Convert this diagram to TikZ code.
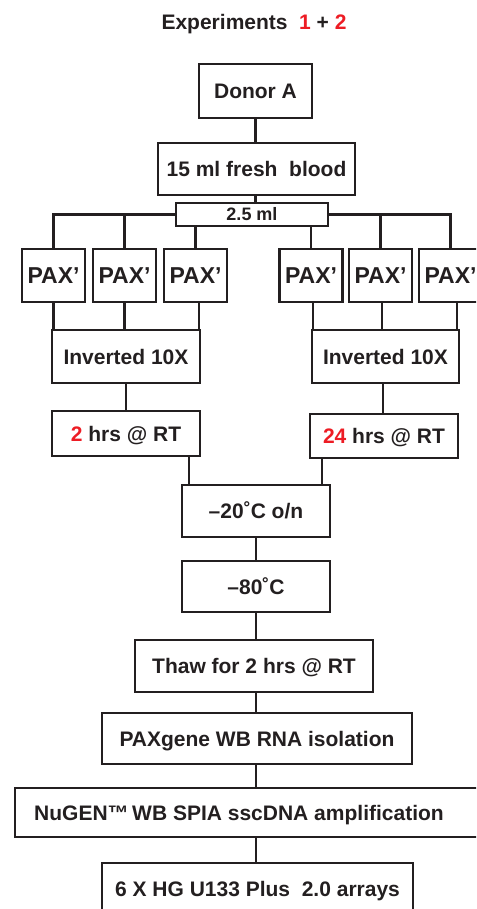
\documentclass[tikz,border=0pt]{standalone}
\usepackage{fontspec}
\setmainfont{Liberation Sans}
\definecolor{ink}{HTML}{231F20}
\definecolor{hot}{HTML}{ED1C24}
\begin{document}
\begin{tikzpicture}[x=1pt,y=-1pt,
  box/.style={draw=ink, line width=2.1pt, inner sep=0pt, text=ink,
    font=\bfseries\fontsize{21}{25}\selectfont, text height=15pt, text depth=0pt},
  paxbox/.style={box, minimum width=63pt, minimum height=53pt,
    font=\bfseries\fontsize{23}{27}\selectfont, text height=16.5pt},
  link/.style={draw=ink, line width=2.1pt}]
\useasboundingbox (0,0) rectangle (476,909);
\clip (0,0) rectangle (476,909);

\node[text=ink, font=\bfseries\fontsize{21}{25}\selectfont] (title) at (254,24)
  {Experiments\hspace{0.55em}\textcolor{hot}{1} + \textcolor{hot}{2}};

\node[box, minimum width=113pt, minimum height=54pt] (donor) at (255.5,91) {Donor A};
\node[box, minimum width=197pt, minimum height=52pt] (blood) at (256.5,169) {15 ml fresh\ \ blood};
\node[box, minimum width=152pt, minimum height=23pt,
  font=\bfseries\fontsize{18}{22}\selectfont, text height=13pt] (ml) at (252,214.5) {2.5 ml};

\node[paxbox] (p1) at (53.5,275.5) {PAX’};
\node[paxbox] (p2) at (124.5,275.5) {PAX’};
\node[paxbox] (p3) at (195.5,275.5) {PAX’};
\node[paxbox] (p4) at (311,275.5) {PAX’};
\node[paxbox] (p5) at (380.5,275.5) {PAX’};
\node[paxbox] (p6) at (450.5,275.5) {PAX’};

\node[box, minimum width=148pt, minimum height=53pt] (inv1) at (126,356.5) {Inverted 10X};
\node[box, minimum width=147pt, minimum height=53pt] (inv2) at (385.5,356.5) {Inverted 10X};

\node[box, minimum width=148pt, minimum height=45pt] (t2) at (126,433.5) {\textcolor{hot}{2} hrs @ RT};
\node[box, minimum width=148pt, minimum height=44pt] (t24) at (384,436) {\textcolor{hot}{24} hrs @ RT};

\node[box, minimum width=148pt, minimum height=52pt] (m20) at (256,511) {–20˚C o/n};
\node[box, minimum width=148pt, minimum height=51pt] (m80) at (256,586.5) {–80˚C};
\node[box, minimum width=238pt, minimum height=52pt] (thaw) at (254,666) {Thaw for 2 hrs @ RT};
\node[box, minimum width=310pt, minimum height=51pt] (pg) at (257,738.5) {PAXgene WB RNA isolation};
\node[box, minimum width=482pt, minimum height=49pt] (nu) at (256,812.5) {\hspace{-34pt}NuGEN™\,WB SPIA sscDNA amplification};
\node[box, minimum width=311pt, minimum height=52pt] (six) at (257.5,889) {6 X HG U133 Plus\ \ 2.0 arrays};

% trunk
\draw[link] (donor.south) -- (donor.south |- blood.north);
\draw[link] (donor.south |- blood.south) -- (donor.south |- ml.north);

% split to tubes
\draw[link] (ml.west) -| (p1.north);
\draw[link] (p2.north) |- (ml.west);
\draw[link] (p3.north) -- (p3.north |- ml.south);
\draw[link] (ml.east) -| (p6.north);
\draw[link] (p5.north) |- (ml.east);
\draw[link] (p4.north) -- (p4.north |- ml.south);

% tubes to inversion
\draw[link] (p1.south) -- (p1.south |- inv1.north);
\draw[link] (p2.south) -- (p2.south |- inv1.north);
\draw[link] ([xshift=3.5pt]p3.south) -- ++(0,28);
\draw[link] ([xshift=2pt]p4.south) -- ++(0,28);
\draw[link] ([xshift=1.5pt]p5.south) -- ++(0,28);
\draw[link] ([xshift=6.5pt]p6.south) -- ++(0,28);

% inversion to incubation
\draw[link] (inv1.south) -- (inv1.south |- t2.north);
\draw[link] ([xshift=-2.5pt]inv2.south) -- ([xshift=-2.5pt]inv2.south |- t24.north);

% incubation to freezing
\draw[link] ([xshift=8pt]m20.north west) -- ++(0,-29);
\draw[link] ([xshift=-9pt]m20.north east) -- ++(0,-27);

% lower trunk
\draw[link] (m20.south) -- (m20.south |- m80.north);
\draw[link] (m80.south) -- (m80.south |- thaw.north);
\draw[link] (m80.south |- thaw.south) -- (m80.south |- pg.north);
\draw[link] (m80.south |- pg.south) -- (m80.south |- nu.north);
\draw[link] (m80.south |- nu.south) -- (m80.south |- six.north);
\end{tikzpicture}
\end{document}
